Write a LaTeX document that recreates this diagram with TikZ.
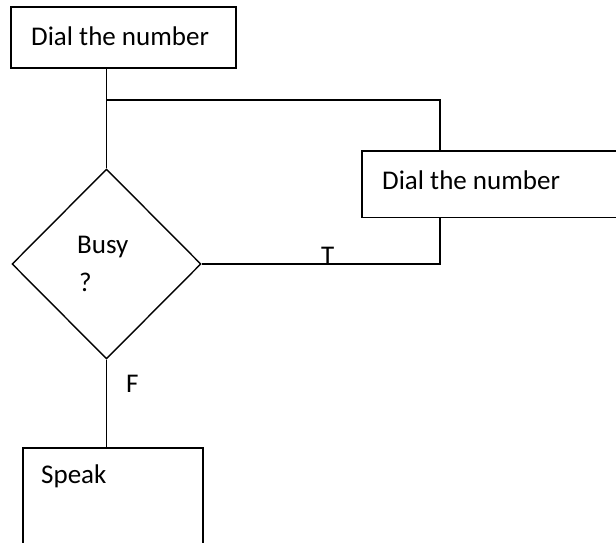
\documentclass[tikz,border=0pt]{standalone}
\usepackage{fontspec}
\setmainfont{Carlito}
\usetikzlibrary{shapes.geometric}
\begin{document}
\begin{tikzpicture}[x=1pt,y=-1pt,
  box/.style={draw=black, line width=1.6pt, rectangle, inner sep=0pt},
  conn/.style={draw=black, line width=1.4pt},
  txt/.style={inner sep=0pt, font=\fontsize{27}{31}\selectfont}]
\useasboundingbox (0,0) rectangle (616,543);
% top box
\node[box, minimum width=225pt, minimum height=61pt] (top) at (123.5,37.5) {};
\node[txt, anchor=base west] (topt) at (31,46) {Dial the number};
% right box (runs off the right edge: only three sides visible)
\node[rectangle, inner sep=0pt, minimum width=270pt, minimum height=66pt, anchor=north west] (rb) at (362,151) {};
\draw[line width=1.6pt] (rb.north east) -- (rb.north west) -- (rb.south west) -- (rb.south east);
\node[txt, anchor=base west] (rbt) at (382,189) {Dial the number};
% diamond
\node[draw=black, line width=1.4pt, diamond, minimum width=189pt, minimum height=190pt, inner sep=0pt] (d) at (106.5,264) {};
\node[txt, anchor=base west] (busy) at (77,253) {Busy};
\node[txt, anchor=base west] (q) at (79,291) {?};
% speak box
\node[box, minimum width=180pt, minimum height=96pt, anchor=north west] (sp) at (22,447) {};
\node[txt, anchor=base west] (spt) at (41,483) {Speak};
% junction coordinates
\coordinate (jl) at (106.5,100);
\coordinate (jr) at (440,100);
% connectors
\draw[conn] (d.north |- top.south) -- (d.north);
\draw[conn] (jl) -- (jr) -- (jr |- rb.north);
\draw[conn] (d.east) -- (jr |- d.east) -- (jr |- rb.south);
\draw[conn] (d.south) -- (d.south |- sp.north);
% labels
\node[txt, anchor=base west] (tl) at (321,264) {T};
\node[txt, anchor=base west] (fl) at (126,392) {F};
\end{tikzpicture}
\end{document}
